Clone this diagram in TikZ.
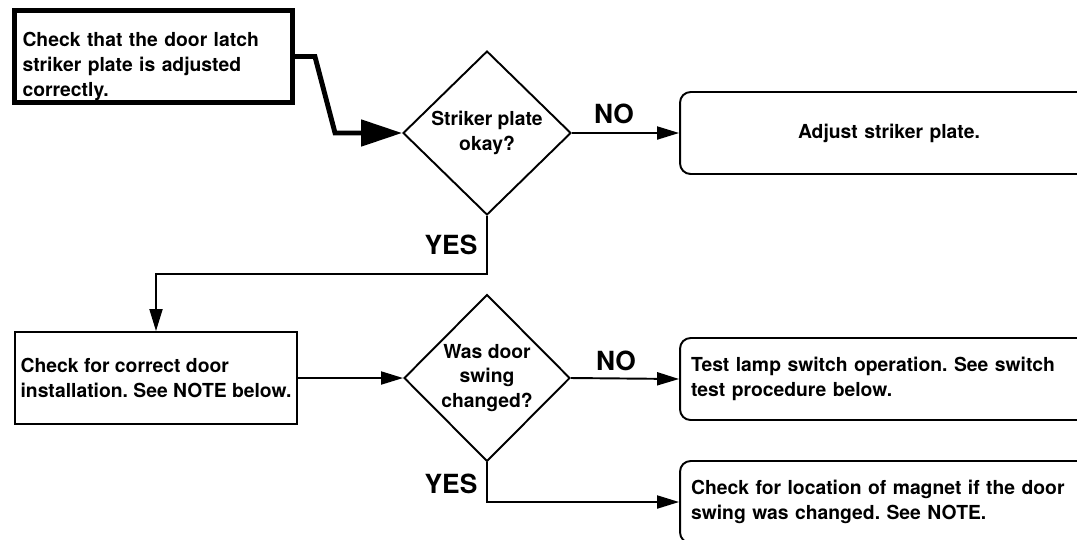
\documentclass[tikz,border=0pt]{standalone}
\usepackage{fontspec}
\setmainfont{TeX Gyre Heros}
\frenchspacing
\usepackage{tikz}
\usetikzlibrary{shapes.geometric,arrows.meta,positioning,calc}

\begin{document}
\begin{tikzpicture}[
    x=0.02cm, y=-0.02cm,
    every node/.append style={font=\fontsize{11}{14.2}\selectfont\bfseries},
    startbox/.style={draw, line width=2.8pt, minimum width=5.56cm, minimum height=1.84cm,
                     text width=5.24cm, align=left, inner xsep=0.16cm, inner ysep=0pt},
    plainbox/.style={draw, line width=1.1pt, minimum width=5.6cm, minimum height=1.84cm,
                     align=left},
    result/.style={draw, rounded corners=6pt, line width=1.1pt, minimum width=8.36cm,
                   minimum height=1.64cm, text width=7.92cm, inner xsep=0.22cm},
    decision/.style={draw, diamond, line width=1.1pt, inner sep=0pt, align=center},
    arrow/.style={-{Triangle[length=4.4mm, width=2.6mm]}, line width=1.1pt},
    thickarrow/.style={-{Triangle[length=8.2mm, width=5.2mm]}, line width=2.8pt},
    answer/.style={font=\fontsize{15}{18}\selectfont\bfseries}
]
\useasboundingbox (0,0) rectangle (1077,539);

% --- nodes ---
\node[startbox] (check) at (153.5,56.5) {\rule{0pt}{19pt}Check that the door latch\\striker plate is adjusted\\correctly.};
\node[decision, minimum width=3.36cm, minimum height=3.28cm] (striker) at (487,133) {Striker plate\\okay?};
\node[result, align=center] (adjust) at (889,133) {Adjust striker plate.};

\node[plainbox] (install) at (156,378) {Check for correct door\\installation. See NOTE below.};
\node[decision, minimum width=3.32cm, minimum height=3.34cm] (swing) at (487,378) {Was door\\swing\\changed?};
\node[result, align=left] (lamp) at (889,379) {Test lamp switch operation. See switch\\test procedure below.};
\node[result, align=left] (magnet) at (889,502) {Check for location of magnet if the door\\swing was changed. See NOTE.};

% --- labels ---
\node[answer] (no1) at (614,114) {NO};
\node[answer] (yes1) at (451,245) {YES};
\node[answer] (no2) at (616,361) {NO};
\node[answer] (yes2) at (451,484) {YES};

% --- arrows ---
\draw[thickarrow] (check.east) -- ++(20,0) -- ($(striker.west)+(-67,0)$) -- (striker.west);
\draw[arrow] (striker.east) -- (adjust.west);
\draw[arrow] (striker.south) -- ++(0,58) -| (install.north);

\draw[arrow] (install.east) -- (swing.west);
\draw[arrow] (swing.east) -- (lamp.west);
\draw[arrow] (swing.south) |- (magnet.west);

\end{tikzpicture}
\end{document}
